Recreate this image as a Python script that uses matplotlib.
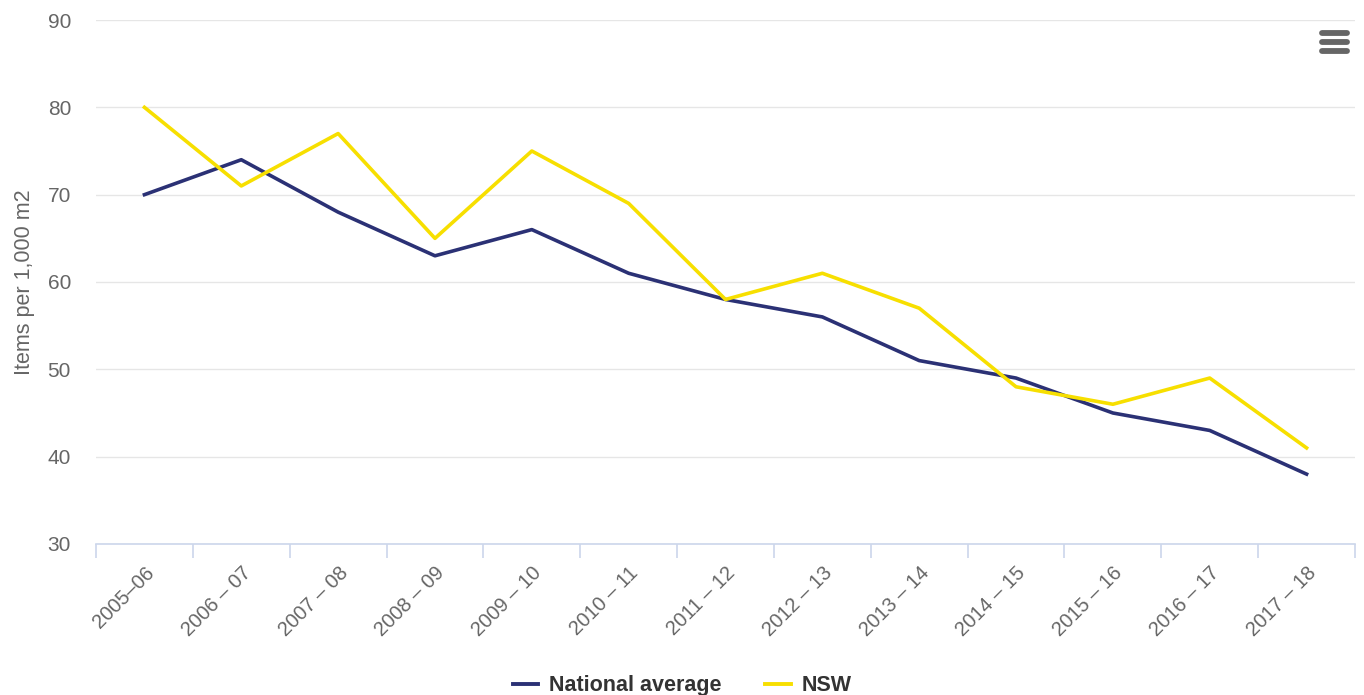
import numpy as np
import matplotlib.pyplot as plt
from matplotlib.lines import Line2D

plt.rcParams['font.family'] = ['Liberation Sans', 'DejaVu Sans']

years = ['2005–06', '2006 – 07', '2007 – 08', '2008 – 09', '2009 – 10', '2010 – 11',
         '2011 – 12', '2012 – 13', '2013 – 14', '2014 – 15', '2015 – 16', '2016 – 17',
         '2017 – 18']
national = [70, 74, 68, 63, 66, 61, 58, 56, 51, 49, 45, 43, 38]
nsw = [80, 71, 77, 65, 75, 69, 58, 61, 57, 48, 46, 49, 41]

navy = '#2b3175'
yellow = '#f7df00'
grey_txt = '#666666'

fig = plt.figure(figsize=(13.64, 6.95), dpi=100)
ax = fig.add_axes([0.0704, 0.2173, 0.9230, 0.7539])

x = np.arange(len(years))
ax.plot(x, national, color=navy, lw=2.6, solid_joinstyle='round', zorder=3)
ax.plot(x, nsw, color=yellow, lw=2.6, solid_joinstyle='round', zorder=3)

ax.set_xlim(-0.5, len(years) - 0.5)
ax.set_ylim(30, 90)
ax.set_yticks(np.arange(30, 91, 10))
ax.grid(axis='y', color='#e6e6e6', lw=1)
ax.set_axisbelow(True)

for s in ['top', 'right', 'left']:
    ax.spines[s].set_visible(False)
ax.spines['bottom'].set_color('#ccd6eb')
ax.spines['bottom'].set_linewidth(1.2)

# ticks at category boundaries, labels at centers
ax.set_xticks(np.arange(-0.5, len(years), 1.0))
ax.set_xticklabels([])
ax.tick_params(axis='x', length=10, color='#ccd6eb', width=1.2)
ax.set_xticks(x, minor=True)
ax.set_xticklabels(years, minor=True, rotation=45, ha='right', rotation_mode='anchor',
                   fontsize=14.5, color=grey_txt)
ax.tick_params(axis='x', which='minor', length=0, pad=14)
ax.tick_params(axis='y', length=0, labelsize=15, labelcolor=grey_txt, pad=18)
ax.set_ylabel('Items per 1,000 m2', fontsize=15.5, color=grey_txt, labelpad=9)

handles = [Line2D([], [], color=navy, lw=2.8), Line2D([], [], color=yellow, lw=2.8)]
fig.legend(handles, ['National average', 'NSW'], loc='lower center',
           bbox_to_anchor=(0.5, -0.03), ncol=2, frameon=False,
           prop={'weight': 'bold', 'size': 15.5}, labelcolor='#333333',
           handlelength=1.2, columnspacing=2.0, handletextpad=0.5)

# menu icon
for yy in [0.952, 0.939, 0.926]:
    fig.add_artist(Line2D([0.9695, 0.9875], [yy, yy], color='#666666', lw=4.2,
                          solid_capstyle='round'))

fig.savefig('out.png', dpi=100)
